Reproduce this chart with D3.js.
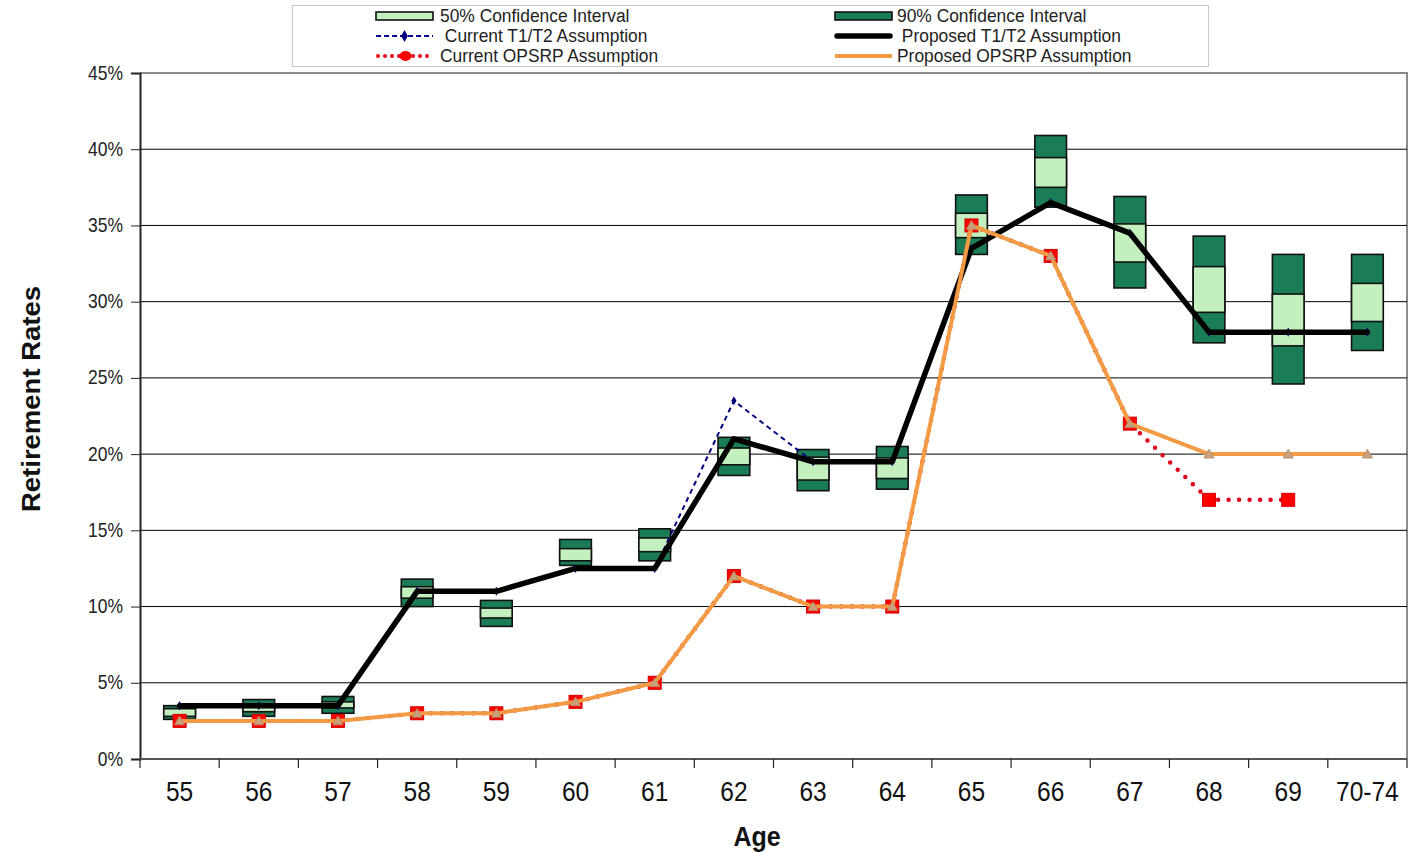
<!DOCTYPE html>
<html>
<head>
<meta charset="utf-8">
<script src="https://cdn.jsdelivr.net/npm/d3@7"></script>
<style>
  html, body { margin: 0; padding: 0; background: #fff; }
  svg { display: block; font-family: "Liberation Sans", Arial, sans-serif; }
</style>
</head>
<body>
<svg id="chart" width="1420" height="852"></svg>
<script>
// Age bands on the horizontal axis
const ages = ["55","56","57","58","59","60","61","62","63","64","65","66","67","68","69","70-74"];

// Assumption series (percent)
const currentT1T2   = [3.5,3.5,3.5,11,11,12.5,12.5,23.5,19.5,19.5,33.5,36.5,34.5,28,28,28];
const proposedT1T2  = [3.5,3.5,3.5,11,11,12.5,12.5,21,19.5,19.5,33.5,36.5,34.5,28,28,28];
const currentOPSRP  = [2.5,2.5,2.5,3,3,3.75,5,12,10,10,35,33,22,17,17,null];
const proposedOPSRP = [2.5,2.5,2.5,3,3,3.75,5,12,10,10,35,33,22,20,20,20];

// Confidence intervals (percent)
const ci90Low  = [2.6,2.8,3.0,10.0,8.7,12.7,13.0,18.6,17.6,17.7,33.1,36.2,30.9,27.3,24.6,26.8];
const ci50Low  = [2.8,3.1,3.35,10.55,9.25,13.0,13.6,19.3,18.3,18.4,34.2,37.5,32.6,29.3,27.1,28.7];
const ci50High = [3.3,3.5,3.75,11.3,9.9,13.8,14.5,20.4,19.8,19.75,35.8,39.45,35.1,32.3,30.5,31.2];
const ci90High = [3.5,3.9,4.1,11.8,10.4,14.4,15.1,21.1,20.3,20.5,37.0,40.9,36.9,34.3,33.1,33.1];

// Axis ticks
const yTicks = [0,5,10,15,20,25,30,35,40,45];

const legendItems = [
  {label: "50% Confidence Interval", type: "ci50"},
  {label: "90% Confidence Interval", type: "ci90"},
  {label: " Current T1/T2 Assumption", type: "curT"},
  {label: " Proposed T1/T2 Assumption", type: "propT"},
  {label: "Current OPSRP Assumption", type: "curO"},
  {label: "Proposed OPSRP Assumption", type: "propO"}
];

const DARK = "#1b7d55", LIGHT = "#c4f0bf", NAVY = "#000080", RED = "#ff0000",
      ORANGE = "#f29a44", TAN = "#c9a27c";

const svg = d3.select("#chart");
const plotL = 140, plotR = 1407, plotT = 73, plotB = 759;

const x = d3.scaleBand().domain(ages).range([plotL, plotR]).padding(0);
const y = d3.scaleLinear().domain([0, 45]).range([plotB, plotT]);
const cx = d => x(d) + x.bandwidth() / 2;

// Text in this chart is set slightly taller than wide
const STRETCH = 1.13;

// Plot frame (top and right edges)
svg.append("path")
  .attr("d", `M${plotL},${plotT}H${plotR}V${plotB}`)
  .attr("fill", "none").attr("stroke", "#8c8c8c").attr("stroke-width", 2);

// Horizontal gridlines
svg.append("g").selectAll("line")
  .data(yTicks.filter(t => t > 0 && t < 45))
  .join("line")
  .attr("x1", plotL).attr("x2", plotR)
  .attr("y1", d => y(d)).attr("y2", d => y(d))
  .attr("stroke", "#000").attr("stroke-width", 1);

// Y axis
const yAxis = svg.append("g")
  .attr("transform", `translate(${plotL},0)`)
  .call(d3.axisLeft(y).tickValues(yTicks).tickSize(9).tickPadding(8)
        .tickFormat(d => d + "%"));
yAxis.select(".domain").attr("stroke", "#222").attr("stroke-width", 2);
yAxis.selectAll(".tick line").attr("stroke", "#222");
yAxis.selectAll(".tick text")
  .attr("font-size", 17.5).attr("fill", "#222")
  .attr("font-family", "Liberation Sans, Arial, sans-serif")
  .attr("x", null).attr("dy", null)
  .attr("transform", `translate(-17,6) scale(1,${STRETCH})`);

// X axis: labels centred in bands, ticks on band boundaries
const xAxis = svg.append("g")
  .attr("transform", `translate(0,${plotB})`)
  .call(d3.axisBottom(x).tickSize(0).tickPadding(0));
xAxis.select(".domain").remove();
xAxis.selectAll(".tick text")
  .attr("font-size", 24.5).attr("fill", "#111")
  .attr("font-family", "Liberation Sans, Arial, sans-serif")
  .attr("dy", null).attr("y", null)
  .attr("transform", `translate(0,42) scale(1,1.16)`);
svg.append("line")
  .attr("x1", plotL - 1).attr("x2", plotR).attr("y1", plotB).attr("y2", plotB)
  .attr("stroke", "#555").attr("stroke-width", 2);
svg.append("g").selectAll("line")
  .data(ages.map(a => x(a)).concat([plotR]))
  .join("line")
  .attr("x1", d => d).attr("x2", d => d)
  .attr("y1", plotB).attr("y2", plotB + 9)
  .attr("stroke", "#222").attr("stroke-width", 1.2);

// Axis titles
svg.append("text")
  .attr("transform", `translate(757,846) scale(1,${STRETCH})`)
  .attr("text-anchor", "middle")
  .attr("font-size", 25).attr("font-weight", "bold").attr("fill", "#111")
  .text("Age");
svg.append("text")
  .attr("transform", "translate(40,399) rotate(-90) scale(1.1,1)")
  .attr("text-anchor", "middle")
  .attr("font-size", 25).attr("font-weight", "bold").attr("fill", "#111")
  .text("Retirement Rates");

// Confidence interval boxes
const boxW = x.bandwidth() * 0.4;
const boxes = svg.append("g");
ages.forEach((a, i) => {
  const x0 = cx(a) - boxW / 2;
  const g = boxes.append("g");
  g.append("rect").attr("x", x0).attr("width", boxW)
    .attr("y", y(ci90High[i])).attr("height", y(ci90Low[i]) - y(ci90High[i]))
    .attr("fill", DARK).attr("stroke", "#111").attr("stroke-width", 1.6);
  g.append("rect").attr("x", x0).attr("width", boxW)
    .attr("y", y(ci50High[i])).attr("height", y(ci50Low[i]) - y(ci50High[i]))
    .attr("fill", LIGHT).attr("stroke", "#111").attr("stroke-width", 1.6);
});

const line = d3.line().defined(d => d.v != null).x(d => cx(d.a)).y(d => y(d.v));
const pts = arr => ages.map((a, i) => ({a, v: arr[i]}));

// Current T1/T2 (dashed navy with diamonds)
svg.append("path").datum(pts(currentT1T2))
  .attr("d", line).attr("fill", "none")
  .attr("stroke", NAVY).attr("stroke-width", 2).attr("stroke-dasharray", "5,4");
svg.append("g").selectAll("path").data(pts(currentT1T2))
  .join("path")
  .attr("transform", d => `translate(${cx(d.a)},${y(d.v)})`)
  .attr("d", d3.symbol(d3.symbolDiamond, 24))
  .attr("fill", NAVY);

// Proposed T1/T2 (thick black)
svg.append("path").datum(pts(proposedT1T2))
  .attr("d", line).attr("fill", "none")
  .attr("stroke", "#000").attr("stroke-width", 5.5)
  .attr("stroke-linejoin", "round").attr("stroke-linecap", "round");

// Current OPSRP (red dotted with squares)
svg.append("path").datum(pts(currentOPSRP))
  .attr("d", line).attr("fill", "none")
  .attr("stroke", "#e0001b").attr("stroke-width", 4.5)
  .attr("stroke-linecap", "round").attr("stroke-dasharray", "0,10.5");
svg.append("g").selectAll("rect").data(pts(currentOPSRP).filter(d => d.v != null))
  .join("rect")
  .attr("x", d => cx(d.a) - 6.5).attr("y", d => y(d.v) - 6.5)
  .attr("width", 13).attr("height", 13)
  .attr("fill", RED).attr("stroke", "#d40000").attr("stroke-width", 1);

// Proposed OPSRP (orange with triangles)
svg.append("path").datum(pts(proposedOPSRP))
  .attr("d", line).attr("fill", "none")
  .attr("stroke", ORANGE).attr("stroke-width", 4)
  .attr("stroke-linejoin", "round");
svg.append("g").selectAll("path").data(pts(proposedOPSRP))
  .join("path")
  .attr("transform", d => `translate(${cx(d.a)},${y(d.v) + 1})`)
  .attr("d", d3.symbol(d3.symbolTriangle, 45))
  .attr("fill", TAN).attr("stroke", "#b08a66").attr("stroke-width", 0.8);

// Legend
const lg = svg.append("g");
lg.append("rect").attr("x", 292.5).attr("y", 5.5).attr("width", 916).attr("height", 61)
  .attr("fill", "#fff").attr("stroke", "#c8c8c8").attr("stroke-width", 1);
legendItems.forEach((it, i) => {
  const col = i % 2, row = Math.floor(i / 2);
  const sx = col === 0 ? 376 : 835, sw = 57;
  const ry = 16 + row * 20;
  const g = lg.append("g");
  if (it.type === "ci50" || it.type === "ci90") {
    g.append("rect").attr("x", sx).attr("y", ry - 4).attr("width", sw).attr("height", 8)
      .attr("fill", it.type === "ci50" ? LIGHT : DARK)
      .attr("stroke", "#111").attr("stroke-width", 1.6);
  } else if (it.type === "curT") {
    g.append("line").attr("x1", sx).attr("x2", sx + sw).attr("y1", ry).attr("y2", ry)
      .attr("stroke", NAVY).attr("stroke-width", 2).attr("stroke-dasharray", "5,3");
    g.append("path").attr("transform", `translate(${sx + sw / 2},${ry})`)
      .attr("d", d3.symbol(d3.symbolDiamond, 40)).attr("fill", NAVY);
  } else if (it.type === "propT") {
    g.append("line").attr("x1", sx + 2).attr("x2", sx + sw - 2).attr("y1", ry).attr("y2", ry)
      .attr("stroke", "#000").attr("stroke-width", 5.5).attr("stroke-linecap", "round");
  } else if (it.type === "curO") {
    g.append("line").attr("x1", sx + 2).attr("x2", sx + sw).attr("y1", ry).attr("y2", ry)
      .attr("stroke", "#f0001b").attr("stroke-width", 4).attr("stroke-linecap", "round")
      .attr("stroke-dasharray", "0,7");
    g.append("ellipse").attr("cx", sx + sw / 2 + 1).attr("cy", ry).attr("rx", 6).attr("ry", 5)
      .attr("fill", RED);
  } else {
    g.append("line").attr("x1", sx).attr("x2", sx + sw).attr("y1", ry).attr("y2", ry)
      .attr("stroke", ORANGE).attr("stroke-width", 4);
  }
  g.append("text")
    .attr("transform", `translate(${col === 0 ? 440 : 897},${ry + 6}) scale(1,1.05)`)
    .attr("font-size", 17.4).attr("fill", "#222")
    .attr("xml:space", "preserve")
    .style("white-space", "pre")
    .text(it.label);
});
</script>
</body>
</html>
